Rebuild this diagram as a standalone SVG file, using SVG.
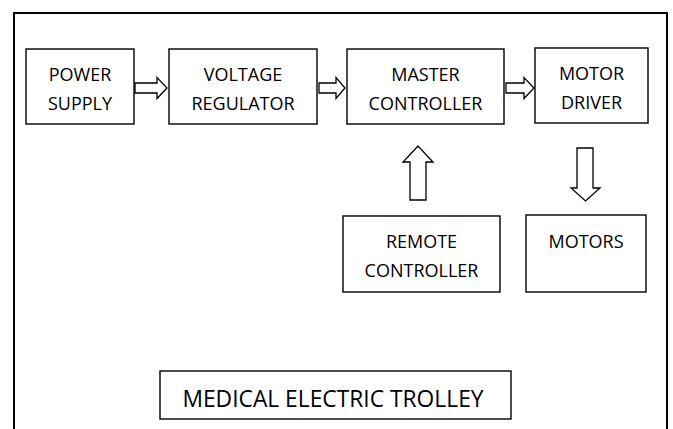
<svg xmlns="http://www.w3.org/2000/svg" width="673" height="429" viewBox="0 0 673 429">
<style>
.box{fill:#fff;stroke:#000;stroke-width:1.4}
.arr{fill:#fff;stroke:#000;stroke-width:1.3;stroke-linejoin:miter}
text{font-family:"Open Sans","Liberation Sans",sans-serif;font-size:18px;fill:#000;text-anchor:middle}
</style>
<rect width="673" height="429" fill="#fff"/>
<path d="M14,429 V13 H667 V429" fill="none" stroke="#000" stroke-width="2"/>
<g id="power-supply"><rect class="box" x="26" y="49" width="108" height="75"/><text x="80" y="81">POWER</text><text x="80" y="110">SUPPLY</text></g>
<g id="voltage-regulator"><rect class="box" x="169" y="49" width="148" height="75"/><text x="243" y="81">VOLTAGE</text><text x="243" y="110">REGULATOR</text></g>
<g id="master-controller"><rect class="box" x="347" y="49" width="157" height="75"/><text x="425.5" y="81">MASTER</text><text x="425.5" y="110">CONTROLLER</text></g>
<g id="motor-driver"><rect class="box" x="535" y="48" width="113" height="75"/><text x="591.5" y="80">MOTOR</text><text x="591.5" y="109">DRIVER</text></g>
<g id="remote-controller"><rect class="box" x="343" y="216" width="157" height="76"/><text x="421.5" y="248">REMOTE</text><text x="421.5" y="277">CONTROLLER</text></g>
<g id="motors"><rect class="box" x="526" y="215" width="120" height="77"/><text x="586" y="248">MOTORS</text></g>
<g id="title"><rect class="box" x="160" y="371" width="351" height="48"/><text x="333" y="407" style="font-size:22.8px">MEDICAL ELECTRIC TROLLEY</text></g>
<g id="connectors">
<path class="arr" d="M135,83 H157 V77.5 L167,88 L157,98.5 V93 H135 Z"/>
<path class="arr" d="M319,83 H336 V77.5 L345,88 L336,98.5 V93 H319 Z"/>
<path class="arr" d="M506,83 H524 V77.5 L534,88 L524,98.5 V93 H506 Z"/>
<path class="arr" d="M410,200 V162 H403 L418,146 L433,162 H426 V200 Z"/>
<path class="arr" d="M577,148 V188 H571 L585.5,201 L600,188 H593 V148 Z"/>
</g>
</svg>
